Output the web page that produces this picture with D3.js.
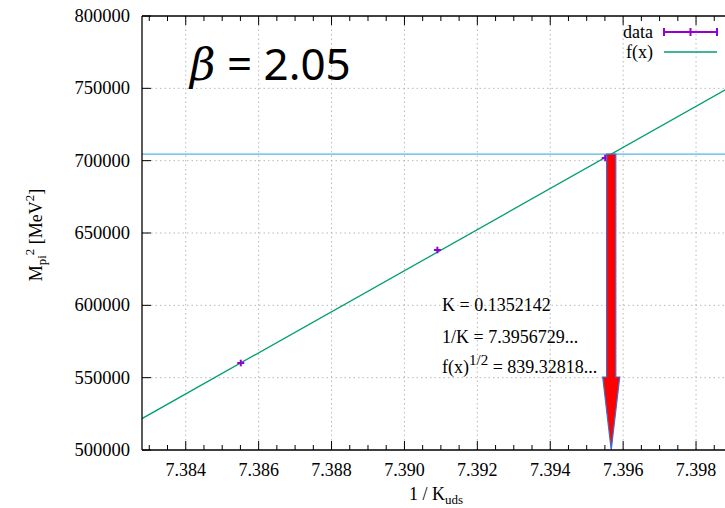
<!DOCTYPE html>
<html>
<head>
<meta charset="utf-8">
<script src="https://cdn.jsdelivr.net/npm/d3@7"></script>
<style>
  html, body { margin: 0; padding: 0; background: #fff; overflow: hidden; }
  svg { display: block; overflow: hidden; }
  text { font-family: "Liberation Serif", "Times New Roman", serif; fill: #000; }
</style>
</head>
<body>
<svg id="chart" width="725" height="508"></svg>
<script>
// ---- data ----
const dataX = [7.38551, 7.390904, 7.395507];
const dataY = [560140, 638250, 701840];
const dataErr = [900, 900, 900];
const fitLineX = [7.3828, 7.4];
const fitLineY = [521700, 765900];
const targetY = 704471.8;          // f(x) = 839.32818^2
const invK = 7.3956729;            // 1/K
const xTicks = [7.384, 7.386, 7.388, 7.390, 7.392, 7.394, 7.396, 7.398];
const xTickLabels = ["7.384", "7.386", "7.388", "7.390", "7.392", "7.394", "7.396", "7.398"];
const yTicks = [500000, 550000, 600000, 650000, 700000, 750000, 800000];
const yTickLabels = ["500000", "550000", "600000", "650000", "700000", "750000", "800000"];
const annotLines = ["K = 0.1352142", "1/K = 7.3956729..."];
const legendNames = ["data", "f(x)"];

// ---- layout ----
const svg = d3.select("#chart");
const L = 142, T = 16, B = 450;
const pxPerUnit = 36450;
const xDomain = [7.3828, 7.4];
const R = L + (xDomain[1] - xDomain[0]) * pxPerUnit;
const W = 725;

const x = d3.scaleLinear().domain(xDomain).range([L, R]);
const y = d3.scaleLinear().domain([500000, 800000]).range([B, T]);

const purple = "#9400d3", green = "#009e73", cyan = "#56b4e9";

svg.append("defs").append("clipPath").attr("id", "clip")
  .append("rect").attr("x", L).attr("y", T).attr("width", W - L).attr("height", B - T);

// grid
const grid = svg.append("g").attr("stroke", "#b8b8b8").attr("stroke-width", 1)
  .attr("stroke-dasharray", "1.5,3");
yTicks.filter(v => v > 500000 && v < 800000).forEach(v => {
  grid.append("line").attr("x1", L).attr("x2", W).attr("y1", y(v)).attr("y2", y(v));
});
xTicks.forEach(v => {
  grid.append("line").attr("x1", x(v)).attr("x2", x(v)).attr("y1", T).attr("y2", B);
});

const plot = svg.append("g").attr("clip-path", "url(#clip)");

// horizontal cyan line
plot.append("line").attr("x1", L).attr("x2", R)
  .attr("y1", y(targetY)).attr("y2", y(targetY))
  .attr("stroke", cyan).attr("stroke-width", 1.3);

// fit line
plot.append("path")
  .datum(fitLineX.map((d, i) => [d, fitLineY[i]]))
  .attr("d", d3.line().x(d => x(d[0])).y(d => y(d[1])))
  .attr("stroke", green).attr("stroke-width", 1.3).attr("fill", "none");

// data points
const pts = plot.append("g").attr("stroke", purple).attr("stroke-width", 2);
dataX.forEach((dx, i) => {
  const cx = x(dx), cy = y(dataY[i]);
  pts.append("line").attr("x1", cx - 3.5).attr("x2", cx + 3.5).attr("y1", cy).attr("y2", cy);
  pts.append("line").attr("x1", cx).attr("x2", cx)
    .attr("y1", y(dataY[i] + dataErr[i]) - 2).attr("y2", y(dataY[i] - dataErr[i]) + 2);
});

// arrow
const ax = x(invK);
const aTop = y(targetY), aBot = y(500000);
const headTop = 377;
const sw = 4.6, hw = 8.5;
plot.append("path")
  .attr("d", `M${ax - sw},${aTop} L${ax + sw},${aTop} L${ax + sw},${headTop} L${ax + hw},${headTop} L${ax},${aBot} L${ax - hw},${headTop} L${ax - sw},${headTop} Z`)
  .attr("fill", "#ff0000").attr("stroke", "#3a6fd0").attr("stroke-width", 1.2)
  .attr("stroke-linejoin", "miter");

// axes borders
const ax1 = svg.append("g").attr("stroke", "#000").attr("stroke-width", 1.3);
ax1.append("line").attr("x1", L).attr("x2", W).attr("y1", B).attr("y2", B);
ax1.append("line").attr("x1", L).attr("x2", W).attr("y1", T).attr("y2", T);
ax1.append("line").attr("x1", L).attr("x2", L).attr("y1", T).attr("y2", B);

// x ticks (major + minor), bottom and top mirrored
const ticks = svg.append("g").attr("stroke", "#000").attr("stroke-width", 1);
const minor = d3.range(0, 40).map(i => 7.3825 + i * 0.0005).filter(v => v > xDomain[0] && x(v) < W - 1);
minor.forEach(v => {
  const isMajor = xTicks.some(t => Math.abs(t - v) < 1e-7);
  const len = isMajor ? 9 : 5;
  ticks.append("line").attr("x1", x(v)).attr("x2", x(v)).attr("y1", B).attr("y2", B - len);
  ticks.append("line").attr("x1", x(v)).attr("x2", x(v)).attr("y1", T).attr("y2", T + len);
});
yTicks.forEach(v => {
  ticks.append("line").attr("x1", L).attr("x2", L + 9).attr("y1", y(v)).attr("y2", y(v));
});

// tick labels
xTicks.forEach((v, i) => {
  svg.append("text").attr("x", x(v)).attr("y", 476).attr("text-anchor", "middle")
    .attr("font-size", 18).text(xTickLabels[i]);
});
yTicks.forEach((v, i) => {
  svg.append("text").attr("x", 130).attr("y", y(v) + 6).attr("text-anchor", "end")
    .attr("font-size", 18.5).text(yTickLabels[i]);
});

// axis titles
const xl = svg.append("text").attr("x", 436).attr("y", 500).attr("text-anchor", "middle").attr("font-size", 18);
xl.append("tspan").text("1 / K");
xl.append("tspan").attr("font-size", 13).attr("dy", 4).text("uds");

const yl = svg.append("text").attr("transform", "translate(42,235) rotate(-90)")
  .attr("text-anchor", "middle").attr("font-size", 18);
yl.append("tspan").text("M");
yl.append("tspan").attr("font-size", 13).attr("dy", 4).text("pi");
yl.append("tspan").attr("font-size", 13).attr("dy", -12).text("2");
yl.append("tspan").attr("dy", 8).text(" [MeV");
yl.append("tspan").attr("font-size", 13).attr("dy", -8).text("2");
yl.append("tspan").attr("dy", 8).text("]");

// beta label
const bt = svg.append("text").attr("x", 190).attr("y", 80).attr("font-size", 44)
  .style("font-family", "'Noto Sans', 'DejaVu Sans', sans-serif");
bt.append("tspan").attr("font-style", "italic").style("font-family", "'DejaVu Serif', serif").text("β");
bt.append("tspan").text(" = 2.05");

// annotation
annotLines.forEach((s, i) => {
  svg.append("text").attr("x", 442).attr("y", 311 + i * 32).attr("font-size", 18).text(s);
});
const a3 = svg.append("text").attr("x", 442).attr("y", 373).attr("font-size", 18);
a3.append("tspan").text("f(x)");
a3.append("tspan").attr("font-size", 15).attr("dy", -8).text("1/2");
a3.append("tspan").attr("dy", 8).text(" = 839.32818...");

// legend
const lg = svg.append("g");
const lx1 = 664, lx2 = 717;
[32, 52].forEach((ly, i) => {
  lg.append("text").attr("x", 653).attr("y", ly + 6).attr("text-anchor", "end")
    .attr("font-size", 18).text(legendNames[i]);
});
lg.append("line").attr("x1", lx1).attr("x2", lx2).attr("y1", 32).attr("y2", 32)
  .attr("stroke", purple).attr("stroke-width", 2);
[lx1, (lx1 + lx2) / 2, lx2].forEach(px => {
  lg.append("line").attr("x1", px).attr("x2", px).attr("y1", 28).attr("y2", 36)
    .attr("stroke", purple).attr("stroke-width", 2);
});
lg.append("line").attr("x1", lx1).attr("x2", lx2).attr("y1", 52).attr("y2", 52)
  .attr("stroke", green).attr("stroke-width", 1.3);
</script>
</body>
</html>
